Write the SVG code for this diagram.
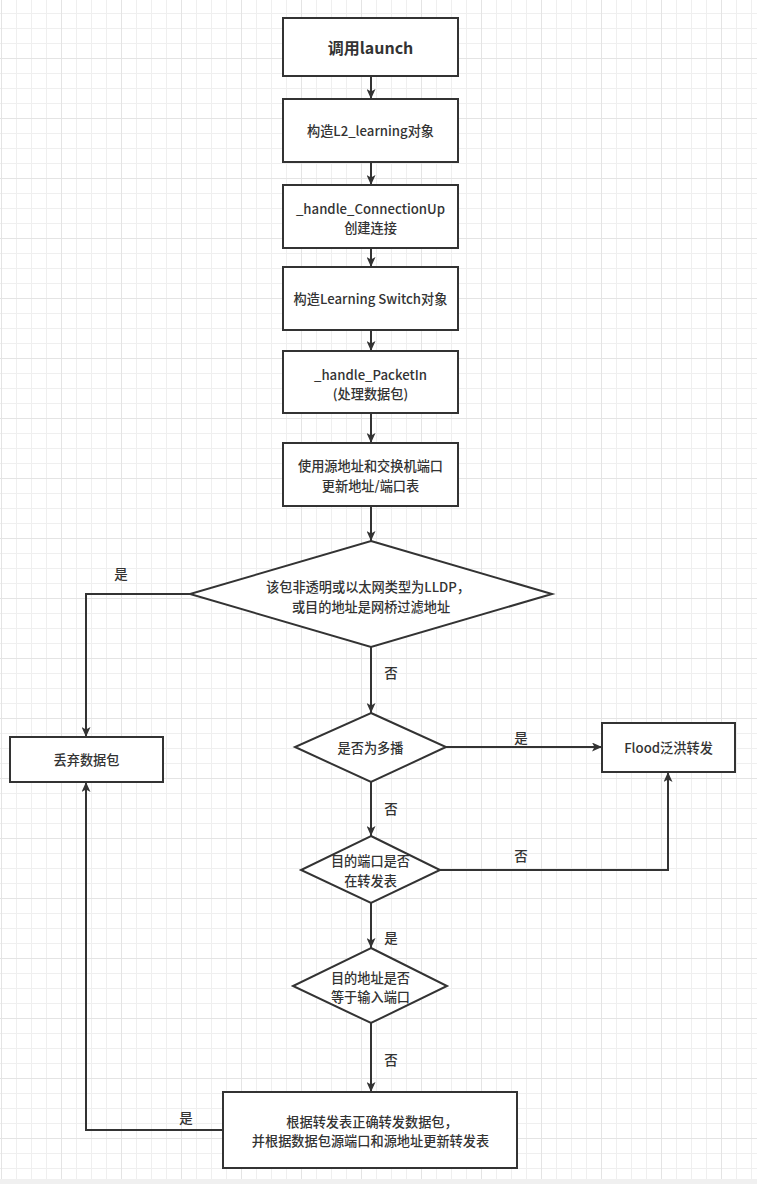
<svg xmlns="http://www.w3.org/2000/svg" width="757" height="1184" viewBox="0 0 757 1184">
<defs>
<pattern id="grid" x="1" y="-2" width="60" height="60" patternUnits="userSpaceOnUse">
<path d="M15.5 0V60M30.5 0V60M45.5 0V60M0 15.5H60M0 30.5H60M0 45.5H60" stroke="#efefef" stroke-width="1" fill="none"/>
<path d="M0.5 0V60M0 0.5H60" stroke="#e4e4e4" stroke-width="1" fill="none"/>
</pattern>
<marker id="arr" markerUnits="userSpaceOnUse" markerWidth="10" markerHeight="9" refX="10" refY="4.5" orient="auto">
<path d="M0,0 L10,4.5 L0,9 L2.5,4.5 z" fill="#333333"/>
</marker>
</defs>
<style>
.box{fill:#ffffff;stroke:#333333;stroke-width:2}
.t{font-family:"Noto Sans CJK SC","Microsoft YaHei",sans-serif;font-size:13.2px;font-weight:500;fill:#333333;text-anchor:middle;dominant-baseline:central}
.big{font-size:16px;font-weight:bold}
.lbl{font-family:"Noto Sans CJK SC",sans-serif;font-size:13.5px;font-weight:500;fill:#333333;text-anchor:middle;dominant-baseline:central}
.c{fill:none;stroke:#333333;stroke-width:2;marker-end:url(#arr)}
</style>
<rect x="0" y="0" width="757" height="1184" fill="#ffffff"/>
<rect x="0" y="0" width="757" height="1179" fill="url(#grid)"/>
<rect x="0" y="1179" width="757" height="5" fill="#f0f0f0"/>

<g id="connectors">
<path class="c" d="M371 76V99"/>
<path class="c" d="M371 162V185"/>
<path class="c" d="M371 248V267"/>
<path class="c" d="M371 330V351"/>
<path class="c" d="M371 413V443"/>
<path class="c" d="M371 506V541"/>
<path class="c" d="M190 594H86V737"/>
<path class="c" d="M371 647V713"/>
<path class="c" d="M446 747H602"/>
<path class="c" d="M371 782V836"/>
<path class="c" d="M440 870H668V772"/>
<path class="c" d="M371 903V948"/>
<path class="c" d="M371 1023V1092"/>
<path class="c" d="M223 1130H86V782"/>
<text class="lbl" x="121" y="573">是</text>
<text class="lbl" x="391" y="672">否</text>
<text class="lbl" x="521" y="737">是</text>
<text class="lbl" x="391" y="808">否</text>
<text class="lbl" x="521" y="855">否</text>
<text class="lbl" x="391" y="937">是</text>
<text class="lbl" x="391" y="1059">否</text>
<text class="lbl" x="186" y="1117">是</text>
</g>

<g id="n1">
<rect class="box" x="283" y="18" width="175" height="58"/>
<text class="t big" x="370.5" y="47">调用launch</text>
</g>
<g id="n2">
<rect class="box" x="283" y="99" width="175" height="63"/>
<text class="t" x="370.5" y="130.5">构造L2_learning对象</text>
</g>
<g id="n3">
<rect class="box" x="283" y="185" width="175" height="63"/>
<text class="t" x="370.5" y="208">_handle_ConnectionUp<tspan x="370.5" dy="19.2">创建连接</tspan></text>
</g>
<g id="n4">
<rect class="box" x="283" y="267" width="175" height="63"/>
<text class="t" x="370.5" y="298.5">构造Learning Switch对象</text>
</g>
<g id="n5">
<rect class="box" x="283" y="351" width="175" height="62"/>
<text class="t" x="370.5" y="374">_handle_PacketIn<tspan x="370.5" dy="19.2">(处理数据包)</tspan></text>
</g>
<g id="n6">
<rect class="box" x="283" y="443" width="175" height="63"/>
<text class="t" x="370.5" y="465.5">使用源地址和交换机端口<tspan x="370.5" dy="19.2">更新地址/端口表</tspan></text>
</g>
<g id="d1">
<polygon class="box" points="371,541 552,594 371,647 190,594"/>
<text class="t" x="368" y="586.5">该包非透明或以太网类型为LLDP，<tspan x="371" dy="19.2">或目的地址是网桥过滤地址</tspan></text>
</g>
<g id="discard">
<rect class="box" x="10" y="737" width="153" height="45"/>
<text class="t" x="86.5" y="759.5">丢弃数据包</text>
</g>
<g id="d2">
<polygon class="box" points="371,713 446,747 371,782 295,747"/>
<text class="t" x="370.5" y="747">是否为多播</text>
</g>
<g id="flood">
<rect class="box" x="602" y="723" width="133" height="49"/>
<text class="t" x="668.5" y="747.5">Flood泛洪转发</text>
</g>
<g id="d3">
<polygon class="box" points="371,836 440,870 371,903 301,870"/>
<text class="t" x="370.5" y="860.5">目的端口是否<tspan x="370.5" dy="19.2">在转发表</tspan></text>
</g>
<g id="d4">
<polygon class="box" points="371,948 447,986 371,1023 293,986"/>
<text class="t" x="370.5" y="977">目的地址是否<tspan x="370.5" dy="19.2">等于输入端口</tspan></text>
</g>
<g id="final">
<rect class="box" x="223" y="1092" width="294" height="76"/>
<text class="t" x="372" y="1121">根据转发表正确转发数据包，<tspan x="370.5" dy="19.2">并根据数据包源端口和源地址更新转发表</tspan></text>
</g>
</svg>
